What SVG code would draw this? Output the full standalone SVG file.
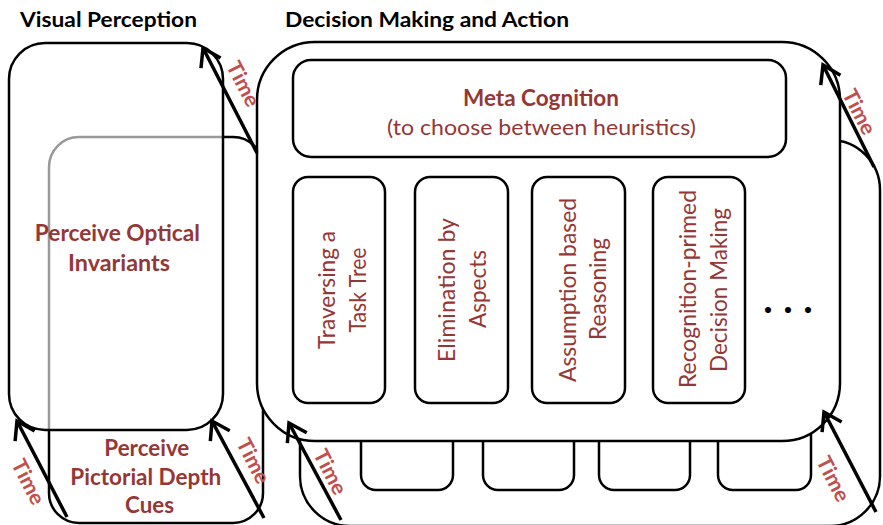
<svg xmlns="http://www.w3.org/2000/svg" width="883" height="525" viewBox="0 0 883 525">
  <style>
    .box { fill: #ffffff; stroke: #000000; stroke-width: 2.5; }
    .veil { fill: #ffffff; fill-opacity: 0.6; stroke: #000000; stroke-width: 2.5; }
    .title { font-family: Lato, "Liberation Sans", sans-serif; font-weight: bold; font-size: 21px; fill: #000000; }
    .lbl { font-family: Lato, "Liberation Sans", sans-serif; font-size: 22px; fill: #953735; }
    .lblb { font-family: Lato, "Liberation Sans", sans-serif; font-weight: bold; font-size: 22px; fill: #953735; }
    .vert { font-family: Lato, "Liberation Sans", sans-serif; font-size: 23px; fill: #953735; text-anchor: middle; }
    .time { font-family: Lato, "Liberation Sans", sans-serif; font-weight: bold; font-size: 21px; fill: #c0504d; text-anchor: middle; }
    .arrow { stroke: #000000; stroke-width: 3.5; fill: none; marker-end: url(#head); }
  </style>
  <defs>
    <marker id="head" markerUnits="userSpaceOnUse" markerWidth="40" markerHeight="40" viewBox="-25 -20 30 40" refX="0" refY="0" orient="auto" overflow="visible">
      <path d="M-17,-11 L0,0 L-17,11" fill="none" stroke="#000000" stroke-width="3.5"/>
    </marker>
  </defs>

  <rect width="883" height="525" fill="#ffffff"/>

  <!-- section titles -->
  <text class="title" x="20" y="27" textLength="177" lengthAdjust="spacingAndGlyphs">Visual Perception</text>
  <text class="title" x="285" y="27" textLength="284" lengthAdjust="spacingAndGlyphs">Decision Making and Action</text>

  <!-- visual perception: later state behind, current state in front -->
  <g id="pictorial-depth">
    <rect class="box" x="49" y="137" width="214" height="386" rx="30"/>
    <text class="lblb" text-anchor="middle" font-size="20">
      <tspan x="149.5" y="456" textLength="85" lengthAdjust="spacingAndGlyphs">Perceive</tspan>
      <tspan x="148.5" y="484.5" textLength="151" lengthAdjust="spacingAndGlyphs">Pictorial Depth</tspan>
      <tspan x="149.5" y="513" textLength="49" lengthAdjust="spacingAndGlyphs">Cues</tspan>
    </text>
  </g>
  <g id="optical-invariants">
    <rect class="veil" x="9" y="43" width="214" height="387" rx="36"/>
    <text class="lblb" text-anchor="middle">
      <tspan x="120" y="241" textLength="165" lengthAdjust="spacingAndGlyphs">Perceive Optical</tspan>
      <tspan x="119" y="271" textLength="102" lengthAdjust="spacingAndGlyphs">Invariants</tspan>
    </text>
  </g>

  <!-- decision making: later state behind -->
  <g id="decision-next">
    <rect class="box" x="300" y="140" width="580" height="386" rx="50"/>
    <rect class="box" x="361" y="300" width="92" height="190" rx="15"/>
    <rect class="box" x="483" y="300" width="91" height="190" rx="15"/>
    <rect class="box" x="599" y="300" width="91" height="190" rx="15"/>
    <rect class="box" x="718" y="300" width="93" height="190" rx="15"/>
  </g>

  <g id="decision">
    <rect class="box" x="257" y="42" width="583" height="399" rx="58"/>
  </g>

  <g id="meta-cognition">
    <rect class="box" x="293" y="60" width="493" height="97" rx="18"/>
    <text class="lblb" x="541" y="106" text-anchor="middle" textLength="156" lengthAdjust="spacingAndGlyphs">Meta Cognition</text>
    <text class="lbl" x="541.5" y="135" text-anchor="middle" textLength="309" lengthAdjust="spacingAndGlyphs">(to choose between heuristics)</text>
  </g>

  <g id="task-tree">
    <rect class="box" x="293" y="177" width="92" height="226" rx="15"/>
    <text class="vert" transform="translate(335,290) rotate(-90)" textLength="118" lengthAdjust="spacingAndGlyphs">Traversing a</text>
    <text class="vert" transform="translate(366,290) rotate(-90)" textLength="85" lengthAdjust="spacingAndGlyphs">Task Tree</text>
  </g>
  <g id="elimination">
    <rect class="box" x="415" y="177" width="93" height="226" rx="15"/>
    <text class="vert" transform="translate(455,290) rotate(-90)" textLength="144" lengthAdjust="spacingAndGlyphs">Elimination by</text>
    <text class="vert" transform="translate(486,289) rotate(-90)" textLength="78" lengthAdjust="spacingAndGlyphs">Aspects</text>
  </g>
  <g id="assumption">
    <rect class="box" x="532" y="177" width="93" height="226" rx="15"/>
    <text class="vert" transform="translate(576,290) rotate(-90)" textLength="184" lengthAdjust="spacingAndGlyphs">Assumption based</text>
    <text class="vert" transform="translate(606,289) rotate(-90)" textLength="102" lengthAdjust="spacingAndGlyphs">Reasoning</text>
  </g>
  <g id="recognition">
    <rect class="box" x="653" y="177" width="92" height="226" rx="15"/>
    <text class="vert" transform="translate(696,289) rotate(-90)" textLength="198" lengthAdjust="spacingAndGlyphs">Recognition-primed</text>
    <text class="vert" transform="translate(727,290) rotate(-90)" textLength="164" lengthAdjust="spacingAndGlyphs">Decision Making</text>
  </g>
  <g id="more">
    <text x="768 788 808" y="313" font-family="Lato, 'Liberation Sans', sans-serif" font-weight="bold" font-size="40" fill="#000000" text-anchor="middle">...</text>
  </g>

  <!-- time arrows, from later state to current state -->
  <g id="connectors">
    <line class="arrow" x1="257" y1="153" x2="203" y2="48"/>
    <line class="arrow" x1="874" y1="167" x2="823" y2="65"/>
    <line class="arrow" x1="67" y1="517" x2="17" y2="421"/>
    <line class="arrow" x1="264" y1="518" x2="212" y2="421"/>
    <line class="arrow" x1="341" y1="520" x2="289" y2="423"/>
    <line class="arrow" x1="876" y1="512" x2="824" y2="412"/>
    <text class="time" transform="translate(243,84) rotate(63)" y="7" textLength="48" lengthAdjust="spacingAndGlyphs">Time</text>
    <text class="time" transform="translate(859,112) rotate(63)" y="7" textLength="48" lengthAdjust="spacingAndGlyphs">Time</text>
    <text class="time" transform="translate(28,482) rotate(63)" y="7" textLength="48" lengthAdjust="spacingAndGlyphs">Time</text>
    <text class="time" transform="translate(253,461) rotate(63)" y="7" textLength="48" lengthAdjust="spacingAndGlyphs">Time</text>
    <text class="time" transform="translate(330,472) rotate(63)" y="7" textLength="48" lengthAdjust="spacingAndGlyphs">Time</text>
    <text class="time" transform="translate(833,479) rotate(63)" y="7" textLength="48" lengthAdjust="spacingAndGlyphs">Time</text>
  </g>
</svg>
